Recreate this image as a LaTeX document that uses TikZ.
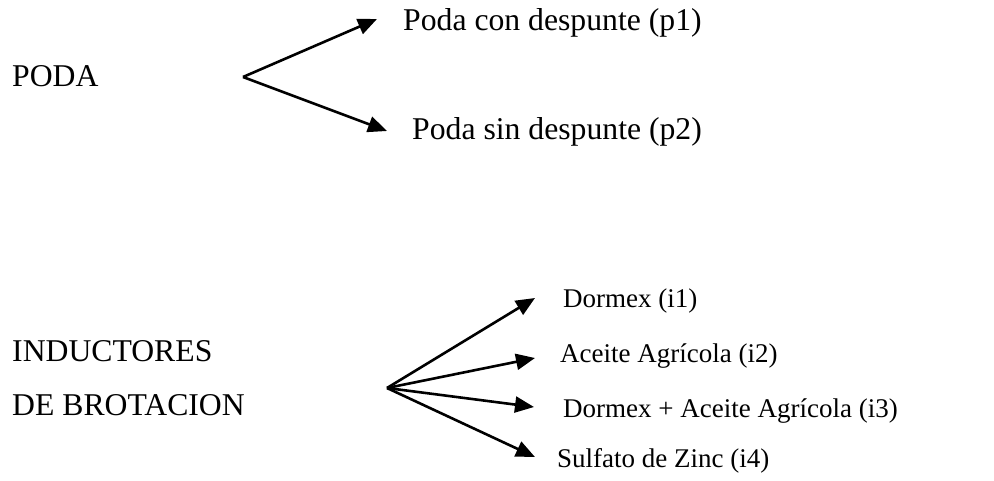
\documentclass[tikz,border=0pt]{standalone}
\usepackage{fontspec}
\setmainfont{Liberation Serif}
\usetikzlibrary{arrows.meta}
\begin{document}
\begin{tikzpicture}[x=1pt,y=-1pt,
  big/.style={anchor=base west,inner sep=0pt,font=\fontsize{31.7}{36}\selectfont},
  small/.style={anchor=base west,inner sep=0pt,font=\fontsize{27}{31}\selectfont},
  conn/.style={line width=2.6pt,-{Triangle[length=19pt,width=16pt]}}]
\useasboundingbox (0,0) rectangle (994,480);
% PODA
\node[big] (poda) at (12,86) {PODA};
\node[big] (p1) at (403,30) {Poda con despunte (p1)};
\node[big] (p2) at (412,139) {Poda sin despunte (p2)};
\coordinate (pa) at (243,77);
\coordinate (t1) at (377,19);
\coordinate (t2) at (387,131);
\draw[conn] (pa) -- (t1);
\draw[conn] (pa) -- (t2);
% INDUCTORES
\node[big] (ind1) at (12,361) {INDUCTORES};
\node[big] (ind2) at (12,415) {DE BROTACION};
\node[small] (i1) at (563,307) {Dormex (i1)};
\node[small] (i2) at (560,362) {Aceite Agrícola (i2)};
\node[small] (i3) at (563,417) {Dormex + Aceite Agrícola (i3)};
\node[small] (i4) at (557,467) {Sulfato de Zinc (i4)};
\coordinate (ia) at (387,388);
\coordinate (u1) at (535,298);
\coordinate (u2) at (535,358);
\coordinate (u3) at (534,407);
\coordinate (u4) at (535,457);
\draw[conn] (ia) -- (u1);
\draw[conn] (ia) -- (u2);
\draw[conn] (ia) -- (u3);
\draw[conn] (ia) -- (u4);
\end{tikzpicture}
\end{document}
